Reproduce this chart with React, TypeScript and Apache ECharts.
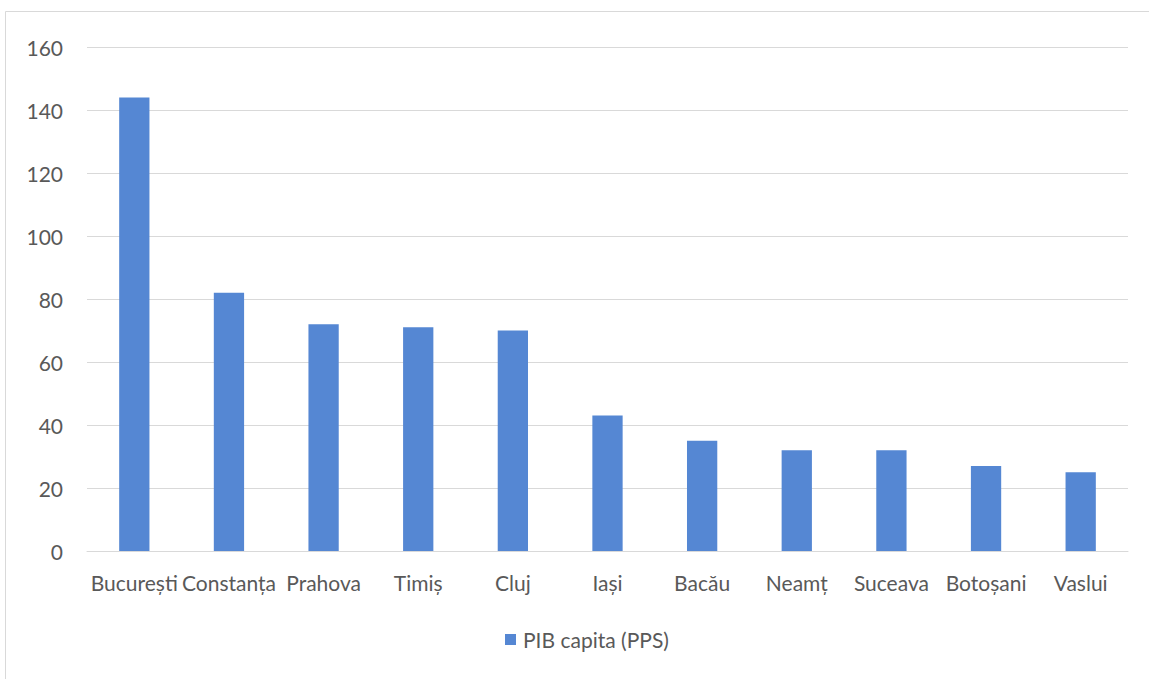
import React, { useEffect, useRef } from "react";
import * as echarts from "echarts";

const categories = ["București", "Constanța", "Prahova", "Timiș", "Cluj", "Iași", "Bacău", "Neamț", "Suceava", "Botoșani", "Vaslui"];
const values = [144, 82, 72, 71, 70, 43, 35, 32, 32, 27, 25];
const seriesName = "PIB capita (PPS)";

export default function App() {
  const ref = useRef<HTMLDivElement>(null);
  useEffect(() => {
    const chart = echarts.init(ref.current!, null, { renderer: "svg" });
    const font = "Lato";
    chart.setOption({
      animation: false,
      backgroundColor: "#ffffff",
      textStyle: { fontFamily: font },
      graphic: [
        {
          type: "rect",
          shape: { x: 5.5, y: 11.5, width: 1200, height: 700 },
          style: { fill: "none", stroke: "#d9d9d9", lineWidth: 1 },
          silent: true,
        },
      ],
      grid: { left: 87, right: 21, top: 47, bottom: 128 },
      legend: {
        data: [seriesName],
        top: 629,
        left: 505,
        itemWidth: 11,
        itemHeight: 11,
        icon: "rect",
        itemGap: 6,
        padding: 0,
        textStyle: { color: "#595959", fontSize: 21, fontFamily: font, padding: [0, 0, 0, 2] },
      },
      xAxis: {
        type: "category",
        data: categories,
        axisLine: { lineStyle: { color: "#d9d9d9" } },
        axisTick: { show: false },
        axisLabel: { color: "#595959", fontSize: 21, margin: 21, interval: 0, fontFamily: font },
      },
      yAxis: {
        type: "value",
        min: 0,
        max: 160,
        interval: 20,
        axisLine: { show: false },
        axisTick: { show: false },
        splitLine: { lineStyle: { color: "#d9d9d9" } },
        axisLabel: { color: "#595959", fontSize: 21, margin: 24, fontFamily: font },
      },
      series: [
        {
          name: seriesName,
          type: "bar",
          data: values,
          barWidth: "32%",
          itemStyle: { color: "#5587d3" },
        },
      ],
    });
    return () => chart.dispose();
  }, []);
  return <div ref={ref} style={{ position: "fixed", left: 0, top: 0, width: 1149, height: 679 }} />;
}
